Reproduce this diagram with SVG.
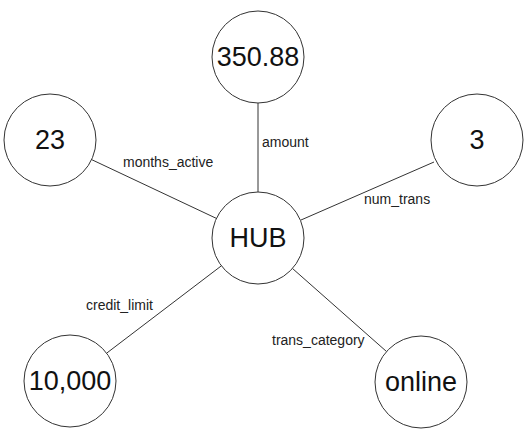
<svg xmlns="http://www.w3.org/2000/svg" width="527" height="432" viewBox="0 0 527 432">
<style>
.n{fill:#fff;stroke:#333;stroke-width:1}
.t{font-family:"Liberation Sans",Arial,sans-serif;font-size:27px;fill:#111;text-anchor:middle;dominant-baseline:central}
.l{font-family:"Liberation Sans",Arial,sans-serif;font-size:14px;fill:#222}
.e{stroke:#333;stroke-width:1;fill:none}
</style>
<rect width="527" height="432" fill="#fff"/>
<g id="connectors">
<line class="e" x1="258" y1="103" x2="258" y2="192"/>
<line class="e" x1="91.6" y1="159.6" x2="216.4" y2="218.4"/>
<line class="e" x1="434" y1="162" x2="301" y2="220"/>
<line class="e" x1="221.4" y1="265.8" x2="106.6" y2="353.2"/>
<line class="e" x1="292.5" y1="268.5" x2="386.5" y2="351.5"/>
<text class="l" x="262" y="147">amount</text>
<text class="l" x="123" y="167">months_active</text>
<text class="l" x="364" y="204">num_trans</text>
<text class="l" x="86" y="310">credit_limit</text>
<text class="l" x="272" y="345">trans_category</text>
</g>
<g id="n_amount"><circle class="n" cx="258" cy="57" r="46"/><text class="t" x="258" y="57">350.88</text></g>
<g id="n_months"><circle class="n" cx="50" cy="140" r="46"/><text class="t" x="50" y="140">23</text></g>
<g id="n_num"><circle class="n" cx="477" cy="140" r="46"/><text class="t" x="477" y="140">3</text></g>
<g id="n_hub"><circle class="n" cx="258" cy="238" r="46"/><text class="t" x="258" y="238">HUB</text></g>
<g id="n_credit"><circle class="n" cx="70" cy="381" r="46"/><text class="t" x="70" y="381">10,000</text></g>
<g id="n_cat"><circle class="n" cx="421" cy="382" r="46"/><text class="t" x="421" y="382">online</text></g>
</svg>
